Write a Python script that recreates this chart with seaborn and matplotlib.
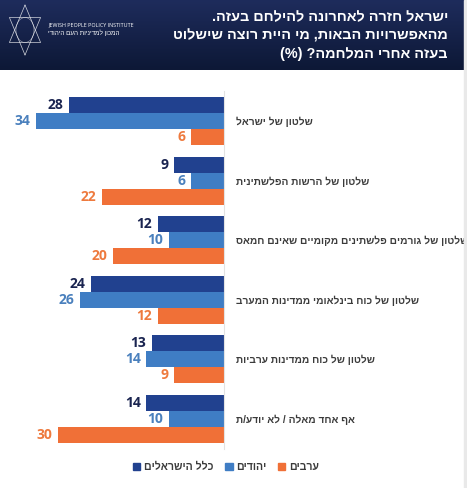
import numpy as np
import pandas as pd
import matplotlib
matplotlib.use("Agg")
import matplotlib.pyplot as plt
import matplotlib.patches as mpatches
import seaborn as sns

# ----------------------------------------------------------
# DATA
# ----------------------------------------------------------

categories = [
    "שלטון של ישראל",
    "שלטון של הרשות הפלשתינית",
    "שלטון של גורמים פלשתינים מקומיים שאינם חמאס",
    "שלטון של כוח בינלאומי ממדינות המערב",
    "שלטון של כוח ממדינות ערביות",
    "אף אחד מאלה / לא יודע/ת",
]
groups = ["כלל הישראלים", "יהודים", "ערבים"]
all_israelis = [28, 9, 12, 24, 13, 14]
jews = [34, 6, 10, 26, 14, 10]
arabs = [6, 22, 20, 12, 9, 30]

title_lines = [
    "ישראל חזרה לאחרונה להילחם בעזה.",
    "מהאפשרויות הבאות, מי היית רוצה שישלוט",
    "בעזה אחרי המלחמה? (%)",
]

bar_colors = {"כלל הישראלים": "#21418f", "יהודים": "#3f7dc4", "ערבים": "#f07037"}
label_colors = ["#1a2450", "#4a80bd", "#ee7a3e"]


def rtl(s):
    # matplotlib draws left to right, so flip Hebrew strings by hand
    swap = {"(": ")", ")": "("}
    return "".join(swap.get(c, c) for c in reversed(s))


sns.set_theme(style="white")
FONT = ["Open Sans", "Liberation Sans", "DejaVu Sans"]
HEB = ["Liberation Sans", "DejaVu Sans"]
plt.rcParams["font.family"] = FONT

df = pd.DataFrame({
    "category": categories * 3,
    "group": [groups[0]] * 6 + [groups[1]] * 6 + [groups[2]] * 6,
    "value": all_israelis + jews + arabs,
})

fig = plt.figure(figsize=(4.67, 4.88), dpi=100)
W, H = 467, 488

# header band
hax = fig.add_axes([0, 1 - 70 / H, 465 / W, 70 / H])
grad = np.linspace(0, 1, 100).reshape(-1, 1)
cmap = matplotlib.colors.LinearSegmentedColormap.from_list("hdr", ["#1e2c5c", "#0d1836"])
hax.imshow(grad, aspect="auto", cmap=cmap, extent=[0, 1, 0, 1])
hax.set_xlim(0, 1)
hax.set_ylim(0, 1)
hax.axis("off")

# logo: simple hexagram with circle
cx, cy = 25 / 465, 1 - 30 / 70
sx, sy = 18 / 465, 25 / 70
ang = np.deg2rad(np.array([90, 210, 330, 90]))
hax.plot(cx + sx * np.cos(ang), cy + sy * np.sin(ang), color="white", lw=0.5, alpha=0.8)
hax.plot(cx + sx * np.cos(ang + np.pi), cy + sy * np.sin(ang + np.pi), color="white", lw=0.5, alpha=0.8)
t = np.linspace(0, 2 * np.pi, 60)
hax.plot(cx + 0.5 * sx * np.cos(t), cy + 0.5 * sy * np.sin(t), color="white", lw=0.4, alpha=0.6)
hax.text(48 / 465, 1 - 25 / 70, "JEWISH PEOPLE POLICY INSTITUTE", color="white",
         fontsize=3.9, va="center", ha="left")
hax.text(120 / 465, 1 - 33 / 70, rtl("המכון למדיניות העם היהודי"), color="white",
         fontsize=4.6, va="center", ha="right", family=HEB)

for i, line in enumerate(title_lines):
    fig.text(448 / W, 1 - (17 + 18.5 * i) / H, rtl(line), color="white", fontsize=10.4,
             fontweight="bold", ha="right", va="center", family=HEB)

# right grey strip
fig.patches.append(mpatches.Rectangle((464 / W, 0), 3 / W, 1, transform=fig.transFigure,
                                      color="#e9e9e9", zorder=5))

# ----------------------------------------------------------
# BARS
# ----------------------------------------------------------

ax = fig.add_axes([2.4 / W, (H - 448.5) / H, 221.6 / W, (448.5 - 91.25) / H])
sns.barplot(data=df, x="value", y="category", hue="group", order=categories,
            hue_order=groups, palette=bar_colors, orient="h", width=0.807,
            linewidth=0, saturation=1, legend=False, ax=ax)

ax.set_xlim(40, 0)
ax.set_ylim(5.5, -0.5)
ax.set_xlabel("")
ax.set_ylabel("")
ax.set_xticks([])
for side in ["top", "bottom", "left"]:
    ax.spines[side].set_visible(False)
ax.spines["right"].set_color("#e3e3e3")
ax.spines["right"].set_linewidth(0.8)

ax.yaxis.tick_right()
ax.set_yticks(range(len(categories)))
ax.set_yticklabels([rtl(c) for c in categories], fontsize=7.3, fontweight="bold",
                   color="#3b3b3b", ha="left", family=HEB)
ax.tick_params(axis="y", length=0, pad=8.5)

for cont, col in zip(ax.containers, label_colors):
    ax.bar_label(cont, padding=4, fontsize=10, fontweight="bold", color=col)

handles = [mpatches.Patch(color=bar_colors[g], label=rtl(g)) for g in groups]
fig.legend(handles=handles, loc="center", bbox_to_anchor=(226 / W, (H - 467) / H),
           ncol=3, frameon=False, handlelength=0.7, handleheight=0.7,
           handletextpad=0.35, columnspacing=1.1, labelcolor="#3b3b3b",
           prop={"family": HEB, "size": 7.6, "weight": "bold"})

fig.savefig("out.png", dpi=100)
